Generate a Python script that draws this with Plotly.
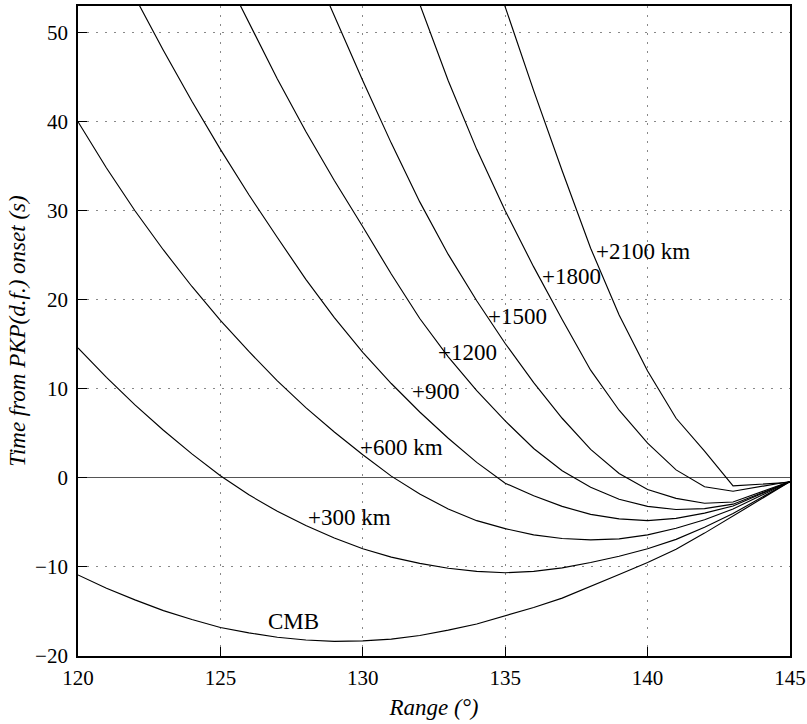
import plotly.graph_objects as go

# ---- data ----
x_cmb = list(range(120, 146))
y_cmb = [-10.9, -12.4, -13.7, -14.9, -15.9, -16.8, -17.4, -17.9, -18.2, -18.35, -18.3,
         -18.1, -17.7, -17.1, -16.4, -15.5, -14.55, -13.5, -12.2, -10.85, -9.5,
         -8.0, -6.2, -4.3, -2.35, -0.4]

x_300 = list(range(120, 146))
y_300 = [14.6, 11.3, 8.2, 5.35, 2.7, 0.25, -1.9, -3.75, -5.35, -6.75, -7.95,
         -8.9, -9.6, -10.15, -10.5, -10.65, -10.5, -10.1, -9.5, -8.8, -7.95,
         -6.9, -5.55, -4.0, -2.2, -0.4]

x_600 = list(range(120, 146))
y_600 = [40.0, 34.8, 30.0, 25.6, 21.5, 17.7, 14.2, 10.9, 7.9, 5.15, 2.6,
         0.2, -1.8, -3.5, -4.8, -5.7, -6.4, -6.8, -6.95, -6.85, -6.4,
         -5.65, -4.7, -3.5, -1.95, -0.4]

x_900 = list(range(121, 146))
y_900 = [60.4, 54.0, 48.0, 42.3, 36.9, 31.8, 27.0, 22.3, 18.0, 14.1,
         10.6, 7.4, 4.45, 1.75, -0.6, -2.0, -3.2, -4.1, -4.6, -4.8,
         -4.55, -3.95, -3.15, -1.8, -0.4]

x_1200 = list(range(125, 146))
y_1200 = [57.5, 51.1, 44.8, 38.9, 33.4, 28.2, 22.9, 17.9, 13.6, 9.8,
          6.4, 3.3, 0.8, -1.05, -2.4, -3.2, -3.55, -3.45, -2.95, -1.7, -0.4]

x_1500 = list(range(128, 146))
y_1500 = [59.2, 51.8, 44.6, 37.6, 31.0, 25.1, 19.9, 15.1, 10.7, 6.7,
          3.2, 0.5, -1.3, -2.3, -2.85, -2.7, -1.55, -0.4]

x_1800 = list(range(131, 146))
y_1800 = [62.4, 53.2, 44.6, 36.9, 30.0, 23.7, 17.8, 12.1, 7.6, 3.9,
          0.9, -1.0, -1.5, -0.95, -0.4]

x_2100 = list(range(134, 146))
y_2100 = [62.3, 52.8, 43.5, 34.5, 25.8, 18.3, 12.0, 6.7, 3.0, -0.9, -0.7, -0.5]

series = [
    ("CMB", x_cmb, y_cmb),
    ("+300 km", x_300, y_300),
    ("+600 km", x_600, y_600),
    ("+900", x_900, y_900),
    ("+1200", x_1200, y_1200),
    ("+1500", x_1500, y_1500),
    ("+1800", x_1800, y_1800),
    ("+2100 km", x_2100, y_2100),
]

# label anchor points ("+" sign position) in data coordinates
label_text = ["+300 km", "+600 km", "+900", "+1200", "+1500", "+1800", "+2100 km"]
label_x = [128.25, 130.07, 131.89, 132.82, 134.58, 136.45, 138.38]
label_y = [-4.4, 3.46, 9.65, 14.08, 18.1, 22.6, 25.4]

x_ticks = [120, 125, 130, 135, 140, 145]
y_ticks = [-20, -10, 0, 10, 20, 30, 40, 50]

FONT = "Liberation Serif, Times New Roman, serif"

fig = go.Figure()
for name, xs, ys in series:
    fig.add_trace(go.Scatter(x=xs, y=ys, mode="lines", name=name,
                             line=dict(color="black", width=1.15),
                             showlegend=False, hoverinfo="skip"))

for t, lx, ly in zip(label_text, label_x, label_y):
    fig.add_annotation(x=lx, y=ly, text=t, showarrow=False,
                       xanchor="left", yanchor="middle", xshift=-7,
                       font=dict(family=FONT, size=23, color="black"))

fig.add_annotation(x=127.58, y=-16.1, text="CMB", showarrow=False,
                   xanchor="center", yanchor="middle",
                   font=dict(family=FONT, size=23, color="black"))

axis_common = dict(
    showline=True, mirror=True, linecolor="black", linewidth=1.8,
    ticks="inside", ticklen=9, tickwidth=1.2, tickcolor="black",
    showgrid=True, gridcolor="#888", gridwidth=1, griddash="2px,7px",
    tickfont=dict(family=FONT, size=21, color="black"),
    automargin=False,
)

fig.update_xaxes(range=[120, 145], tickvals=x_ticks, zeroline=False,
                 title=dict(text="<i>Range (°)</i>", standoff=10,
                            font=dict(family=FONT, size=23, color="black")),
                 ticklabelstandoff=2, **axis_common)
fig.update_yaxes(range=[-20, 53], tickvals=y_ticks,
                 zeroline=True, zerolinecolor="#555", zerolinewidth=1.2,
                 title=dict(text="<i>Time from PKP(d.f.) onset (s)</i>", standoff=3,
                            font=dict(family=FONT, size=23, color="black")),
                 ticklabelstandoff=4, **axis_common)

fig.update_layout(width=807, height=724,
                  margin=dict(l=78, r=17, t=6, b=68),
                  plot_bgcolor="white", paper_bgcolor="white")

fig.write_html("out.html",
               config={"displayModeBar": False},
               post_script="document.body.style.margin='0px';document.body.style.padding='0px';")
